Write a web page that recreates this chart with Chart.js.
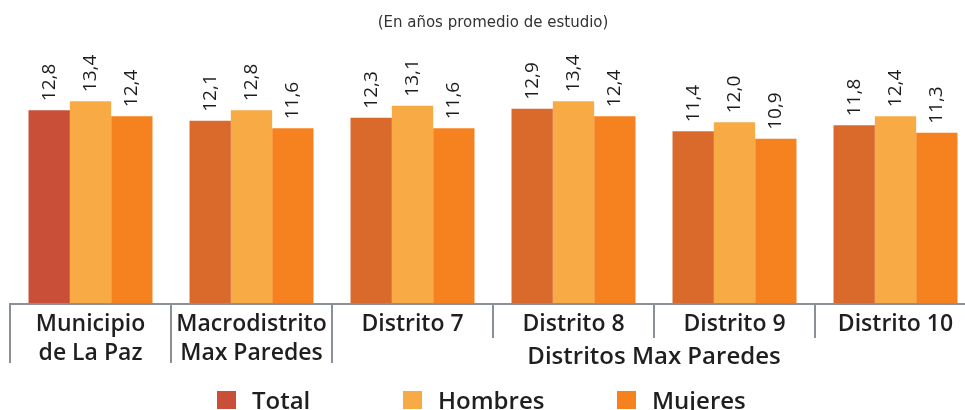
<!DOCTYPE html>
<html>
<head>
<meta charset="utf-8">
<script src="https://cdn.jsdelivr.net/npm/chart.js@4"></script>
<style>
  html, body { margin: 0; padding: 0; background: #fff; overflow: hidden; }
  #wrap { width: 980px; height: 410px; }
</style>
</head>
<body>
<div id="wrap"><canvas id="eduChart"></canvas></div>
<script>
const categories = [
    ["Municipio", "de La Paz"],
    ["Macrodistrito", "Max Paredes"],
    "Distrito 7",
    "Distrito 8",
    "Distrito 9",
    "Distrito 10"
];
const totalValues = [12.8, 12.1, 12.3, 12.9, 11.4, 11.8];
const hombresValues = [13.4, 12.8, 13.1, 13.4, 12.0, 12.4];
const mujeresValues = [12.4, 11.6, 11.6, 12.4, 10.9, 11.3];
const groupLabel = "Distritos Max Paredes";
const titleText = "(En años promedio de estudio)";

const labelFont = "'Open Sans', 'DejaVu Sans', sans-serif";

// value labels, rotated, above each bar
const valueLabels = {
    id: "valueLabels",
    afterDatasetsDraw(chart) {
        const ctx = chart.ctx;
        ctx.save();
        ctx.font = "400 19px " + labelFont;
        ctx.fillStyle = "#1c1c1c";
        ctx.textAlign = "left";
        ctx.textBaseline = "middle";
        chart.data.datasets.forEach((ds, i) => {
            chart.getDatasetMeta(i).data.forEach((bar, j) => {
                const txt = ds.data[j].toFixed(1).replace(".", ",");
                ctx.save();
                ctx.translate(bar.x, bar.y - 9);
                ctx.rotate(-Math.PI / 2);
                ctx.fillText(txt, 0, 0);
                ctx.restore();
            });
        });
        ctx.restore();
    }
};

// axis line, category separators, group label and legend
const decorations = {
    id: "decorations",
    afterDraw(chart) {
        const ctx = chart.ctx;
        const x = chart.scales.x;
        const area = chart.chartArea;
        const step = x.getPixelForValue(1) - x.getPixelForValue(0);
        ctx.save();
        ctx.strokeStyle = "#8b9096";
        ctx.lineWidth = 2;
        ctx.beginPath();
        ctx.moveTo(area.left, area.bottom + 1);
        ctx.lineTo(area.right, area.bottom + 1);
        ctx.stroke();
        for (let i = 0; i <= categories.length; i++) {
            const px = Math.round(x.getPixelForValue(i) - step / 2);
            ctx.beginPath();
            ctx.moveTo(px, area.bottom);
            ctx.lineTo(px, area.bottom + (i <= 2 ? 60 : 35));
            ctx.stroke();
        }

        const gx = (x.getPixelForValue(2) + x.getPixelForValue(5)) / 2;
        ctx.font = "600 24px " + labelFont;
        ctx.fillStyle = "#1f1f1f";
        ctx.textAlign = "center";
        ctx.textBaseline = "middle";
        ctx.fillText(groupLabel, gx, 357);

        const legendX = [217, 403, 617];
        ctx.textAlign = "left";
        chart.data.datasets.forEach((ds, i) => {
            const color = Array.isArray(ds.backgroundColor) ? ds.backgroundColor[0] : ds.backgroundColor;
            ctx.fillStyle = color;
            ctx.fillRect(legendX[i], 391, 19, 18);
            ctx.fillStyle = "#1f1f1f";
            ctx.fillText(ds.label, legendX[i] + 35, 402);
        });
        ctx.restore();
    }
};

const totalColors = totalValues.map((v, i) => i === 0 ? "#c94f38" : "#d96a2b");

new Chart(document.getElementById("eduChart"), {
    type: "bar",
    data: {
        labels: categories,
        datasets: [
            { label: "Total", data: totalValues, backgroundColor: totalColors },
            { label: "Hombres", data: hombresValues, backgroundColor: "#f8ab45" },
            { label: "Mujeres", data: mujeresValues, backgroundColor: "#f6811f" }
        ]
    },
    options: {
        responsive: true,
        maintainAspectRatio: false,
        animation: false,
        categoryPercentage: 0.77,
        barPercentage: 1,
        layout: {
            padding: { left: 10, right: 4, top: 0, bottom: 0 }
        },
        plugins: {
            legend: { display: false },
            tooltip: { enabled: false },
            title: {
                display: true,
                text: titleText,
                color: "#333",
                font: { family: "'DejaVu Sans', Arial, sans-serif", size: 15, weight: "normal", lineHeight: 1.2 },
                padding: { top: 14, bottom: 30 }
            }
        },
        scales: {
            x: {
                grid: { display: false },
                border: { display: false },
                ticks: {
                    color: "#1f1f1f",
                    font: { family: labelFont, size: 23, weight: "600", lineHeight: 1.27 },
                    padding: -1,
                    maxRotation: 0,
                    autoSkip: false
                },
                afterFit(scale) {
                    scale.height = 107;
                }
            },
            y: {
                display: false,
                min: 0,
                max: 16
            }
        }
    },
    plugins: [valueLabels, decorations]
});
</script>
</body>
</html>
